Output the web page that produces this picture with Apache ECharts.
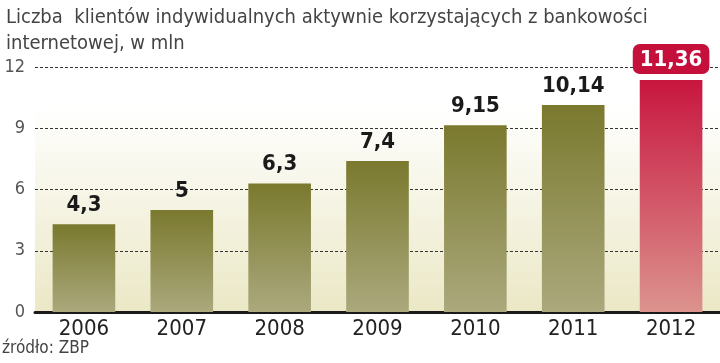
<!DOCTYPE html>
<html><head><meta charset="utf-8">
<script src="https://cdn.jsdelivr.net/npm/echarts@6/dist/echarts.min.js"></script>
<style>html,body{margin:0;padding:0;background:#fff}#c{width:720px;height:363px}</style>
</head><body><div id="c"></div>
<script>
const categories = ['2006','2007','2008','2009','2010','2011','2012'];
const values = [4.3, 5, 6.3, 7.4, 9.15, 10.14, 11.36];
const yTicks = [0, 3, 6, 9, 12];
const titleLines = ['Liczba  klientów indywidualnych aktywnie korzystających z bankowości', 'internetowej, w mln'];
const sourceText = 'źródło: ZBP';

const fmt = v => String(v).replace('.', ',');
const olive = new echarts.graphic.LinearGradient(0,0,0,1,[{offset:0,color:'#7a792e'},{offset:1,color:'#aba97d'}]);
const red = new echarts.graphic.LinearGradient(0,0,0,1,[{offset:0,color:'#c8163f'},{offset:1,color:'#dc938e'}]);

const data = values.map((v,i) => {
  const last = i === values.length - 1;
  const item = { value: v, itemStyle: { color: last ? red : olive } };
  if (last) {
    item.label = { color: '#fff', backgroundColor: '#c5103c', borderRadius: 7, padding: [5,7,3,7], distance: 6 };
  }
  return item;
});

const chart = echarts.init(document.getElementById('c'), null, {renderer:'canvas'});
chart.setOption({
  animation: false,
  backgroundColor: '#fff',
  title: {
    text: titleLines.join('\n'), left: 1, top: 0,
    textStyle: { fontFamily: 'DejaVu Sans Condensed', fontWeight: 'normal', fontSize: 20, color: '#444', lineHeight: 26 }
  },
  graphic: [{
    type: 'text', left: 2, top: 340,
    style: { text: sourceText, font: '17px "DejaVu Sans Condensed"', fill: '#444' }
  }],
  grid: {
    left: 35, right: 0, top: 67, bottom: 51, show: true, borderWidth: 0,
    backgroundColor: new echarts.graphic.LinearGradient(0,0,0,1,[{offset:0,color:'#ffffff'},{offset:0.15,color:'#ffffff'},{offset:1,color:'#ebe8c6'}])
  },
  xAxis: {
    type: 'category', data: categories,
    axisLine: { lineStyle: { color: '#1a1a1a', width: 3 } },
    axisTick: { show: false },
    axisLabel: { fontFamily: 'DejaVu Sans Condensed', fontSize: 22, color: '#222', margin: 6 }
  },
  yAxis: {
    type: 'value', min: yTicks[0], max: yTicks[yTicks.length-1], interval: 3,
    axisLine: { show: false }, axisTick: { show: false },
    axisLabel: { fontFamily: 'DejaVu Sans Condensed', fontSize: 18, color: '#555', margin: 10 },
    splitLine: { show: true, lineStyle: { color: '#333', type: [3,2], width: 1 } }
  },
  series: [{
    type: 'bar', data: data, barCategoryGap: '36%',
    label: {
      show: true, position: 'top', distance: 8,
      formatter: p => fmt(p.value),
      fontFamily: 'DejaVu Sans Condensed', fontWeight: 'bold', fontSize: 22, color: '#1a1a1a'
    }
  }]
});
</script></body></html>
